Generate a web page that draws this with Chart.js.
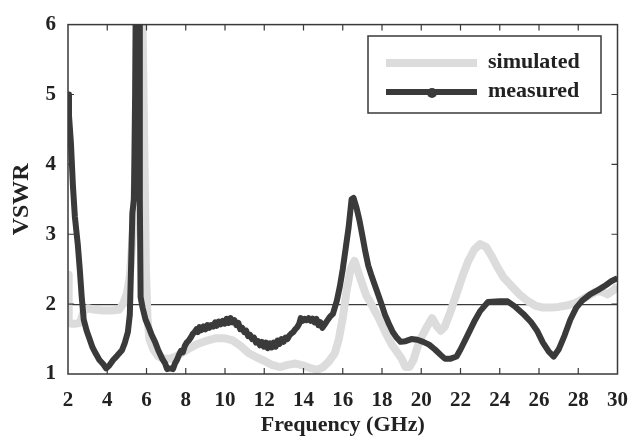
<!DOCTYPE html>
<html>
<head>
<meta charset="utf-8">
<script src="https://cdn.jsdelivr.net/npm/chart.js@4/dist/chart.umd.min.js"></script>
<style>
  html, body { margin: 0; padding: 0; background: #ffffff; }
  #wrap { width: 642px; height: 444px; }
</style>
</head>
<body>
<div id="wrap"><canvas id="c" width="642" height="444"></canvas></div>
<script>
// ---- data ----
const xTicks = [2, 4, 6, 8, 10, 12, 14, 16, 18, 20, 22, 24, 26, 28, 30];
const yTicks = [1, 2, 3, 4, 5, 6];
const seriesNames = ["simulated", "measured"];

const simFreq = [2.0, 2.02, 2.05, 2.15, 2.4, 2.6, 2.8, 3.0, 3.4, 3.8, 4.2, 4.6, 4.8, 5.0, 5.15, 5.3, 5.45, 5.6, 5.7, 5.8, 5.9, 5.97, 6.05, 6.15, 6.35, 6.6, 6.9, 7.2, 7.5, 7.8, 8.2, 8.6, 9.0, 9.5, 10.0, 10.4, 10.8, 11.2, 11.6, 12.0, 12.4, 12.8, 13.2, 13.6, 14.0, 14.4, 14.7, 15.0, 15.3, 15.6, 15.8, 16.0, 16.2, 16.4, 16.6, 16.8, 17.0, 17.2, 17.4, 17.6, 17.8, 18.0, 18.2, 18.5, 18.8, 19.0, 19.2, 19.4, 19.6, 19.8, 20.0, 20.3, 20.55, 20.8, 21.0, 21.2, 21.5, 21.8, 22.1, 22.4, 22.7, 23.0, 23.3, 23.6, 23.9, 24.2, 24.6, 25.0, 25.4, 25.8, 26.2, 26.6, 27.0, 27.4, 27.8, 28.2, 28.6, 28.9, 29.2, 29.5, 29.8, 30.0];
const simVswr = [2.42, 2.2, 1.75, 1.72, 1.72, 1.73, 1.9, 1.94, 1.92, 1.91, 1.91, 1.92, 2.0, 2.15, 2.4, 3.0, 4.0, 5.5, 7.0, 6.0, 4.0, 2.5, 1.8, 1.5, 1.35, 1.25, 1.22, 1.22, 1.25, 1.3, 1.37, 1.43, 1.47, 1.51, 1.51, 1.48, 1.4, 1.3, 1.24, 1.19, 1.13, 1.1, 1.13, 1.15, 1.12, 1.08, 1.06, 1.1, 1.18, 1.3, 1.5, 1.8, 2.2, 2.5, 2.62, 2.45, 2.28, 2.12, 2.03, 1.92, 1.82, 1.7, 1.58, 1.42, 1.3, 1.22, 1.1, 1.1, 1.2, 1.38, 1.52, 1.68, 1.8, 1.68, 1.62, 1.68, 1.9, 2.15, 2.4, 2.62, 2.78, 2.86, 2.82, 2.68, 2.52, 2.38, 2.26, 2.14, 2.05, 1.98, 1.95, 1.95, 1.96, 1.98, 2.01, 2.07, 2.13, 2.18, 2.18, 2.14, 2.2, 2.26];

const measFreq = [2.0, 2.05, 2.15, 2.25, 2.35, 2.5, 2.6, 2.7, 2.8, 2.95, 3.1, 3.25, 3.4, 3.6, 3.8, 3.95, 4.1, 4.3, 4.5, 4.75, 4.9, 5.05, 5.15, 5.22, 5.28, 5.36, 5.42, 5.48, 5.55, 5.62, 5.66, 5.7, 5.8, 5.95, 6.1, 6.25, 6.45, 6.6, 6.8, 6.95, 7.05, 7.2, 7.35,
  7.45, 7.55, 7.65, 7.75, 7.85, 7.95, 8.05, 8.15, 8.25, 8.35, 8.45, 8.55, 8.62, 8.7, 8.8, 8.9, 9.0, 9.1, 9.2, 9.3, 9.4, 9.5, 9.58, 9.68, 9.78, 9.88, 9.98, 10.08, 10.18, 10.28, 10.38, 10.48, 10.58, 10.68, 10.78, 10.88, 10.98, 11.08, 11.18, 11.28, 11.38, 11.48, 11.58, 11.68, 11.78, 11.88, 11.98, 12.08, 12.18, 12.28, 12.38, 12.48, 12.58, 12.68, 12.78, 12.88, 12.98, 13.08, 13.18, 13.28, 13.38, 13.48, 13.58, 13.68, 13.78, 13.86, 13.96, 14.06, 14.16, 14.26, 14.36, 14.46, 14.56, 14.66, 14.76, 14.86, 14.96, 15.06, 15.2, 15.35, 15.5,
  15.7, 15.85, 16.0, 16.15, 16.3, 16.45, 16.55, 16.7, 16.85, 17.0, 17.15, 17.3, 17.45, 17.6, 17.75, 17.95, 18.15, 18.35, 18.55, 18.75, 18.95, 19.2, 19.5, 19.8, 20.1, 20.4, 20.7, 21.0, 21.2, 21.5, 21.8, 22.0, 22.3, 22.7, 23.0, 23.4, 24.0, 24.4, 24.8, 25.2, 25.6, 25.9, 26.2, 26.5, 26.75, 27.0, 27.3, 27.6, 27.9, 28.2, 28.6, 29.0, 29.4, 29.7, 30.0];
const measVswr = [5.0, 4.7, 4.3, 3.7, 3.25, 2.85, 2.5, 2.1, 1.78, 1.62, 1.5, 1.38, 1.3, 1.2, 1.14, 1.08, 1.12, 1.2, 1.26, 1.34, 1.45, 1.6, 1.85, 2.6, 3.3, 3.5, 5.0, 7.5, 9.0, 6.0, 3.5, 2.1, 1.95, 1.78, 1.68, 1.57, 1.45, 1.34, 1.22, 1.15, 1.07, 1.08, 1.07,
  1.15, 1.2, 1.27, 1.33, 1.31, 1.4, 1.45, 1.48, 1.52, 1.57, 1.6, 1.64, 1.6, 1.67, 1.63, 1.68, 1.64, 1.7, 1.66, 1.7, 1.68, 1.74, 1.69, 1.75, 1.71, 1.76, 1.72, 1.79, 1.73, 1.8, 1.74, 1.77, 1.7, 1.73, 1.64, 1.66, 1.6, 1.62, 1.54, 1.56, 1.5, 1.52, 1.45, 1.47, 1.41, 1.46, 1.39, 1.45, 1.37, 1.44, 1.38, 1.45, 1.39, 1.48, 1.43, 1.5, 1.46, 1.52, 1.5, 1.55, 1.58, 1.6, 1.64, 1.67, 1.72, 1.8, 1.76, 1.79, 1.77, 1.8, 1.76, 1.79, 1.74, 1.79, 1.7, 1.74, 1.66, 1.7, 1.76, 1.82, 1.86,
  2.05, 2.25, 2.5, 2.8, 3.1, 3.5, 3.52, 3.38, 3.2, 2.98, 2.75, 2.55, 2.42, 2.3, 2.18, 2.02, 1.85, 1.72, 1.6, 1.52, 1.46, 1.47, 1.5, 1.49, 1.46, 1.42, 1.35, 1.27, 1.22, 1.22, 1.25, 1.35, 1.52, 1.75, 1.9, 2.03, 2.04, 2.04, 1.96, 1.86, 1.74, 1.62, 1.45, 1.32, 1.25, 1.35, 1.55, 1.78, 1.95, 2.05, 2.14, 2.2, 2.27, 2.33, 2.37];

const refLine = 2; // horizontal reference line value

// ---- styling ----
const FONT = "'Liberation Serif', 'Times New Roman', serif";
const INK = "#3a3a3a";
const SIM_COLOR = "#dcdcdc";

function pts(xs, ys) { return xs.map((x, i) => ({ x: x, y: ys[i] })); }

const framePlugin = {
  id: 'frame',
  afterDraw(chart) {
    const { ctx, chartArea: a, scales } = chart;
    ctx.save();
    ctx.strokeStyle = INK;
    ctx.lineWidth = 1.5;
    ctx.strokeRect(a.left, a.top, a.right - a.left, a.bottom - a.top);
    // inward tick marks
    ctx.lineWidth = 1.2;
    const tl = 6;
    ctx.beginPath();
    scales.x.ticks.forEach(t => {
      if (t.value <= xTicks[0] || t.value >= xTicks[xTicks.length - 1]) return;
      const px = scales.x.getPixelForValue(t.value);
      ctx.moveTo(px, a.bottom); ctx.lineTo(px, a.bottom - tl);
      ctx.moveTo(px, a.top); ctx.lineTo(px, a.top + tl);
    });
    scales.y.ticks.forEach(t => {
      if (t.value <= yTicks[0] || t.value >= yTicks[yTicks.length - 1]) return;
      const py = scales.y.getPixelForValue(t.value);
      ctx.moveTo(a.left, py); ctx.lineTo(a.left + tl, py);
      ctx.moveTo(a.right, py); ctx.lineTo(a.right - tl, py);
    });
    ctx.stroke();

    // legend box
    const bx = 368, by = 36, bw = 233, bh = 77;
    ctx.fillStyle = '#ffffff';
    ctx.fillRect(bx, by, bw, bh);
    ctx.lineWidth = 1.5;
    ctx.strokeStyle = INK;
    ctx.strokeRect(bx, by, bw, bh);
    const rows = [
      { name: seriesNames[0], color: SIM_COLOR, w: 8, y: 63, marker: false },
      { name: seriesNames[1], color: INK, w: 6, y: 92, marker: true }
    ];
    rows.forEach(r => {
      ctx.beginPath();
      ctx.strokeStyle = r.color;
      ctx.lineWidth = r.w;
      ctx.lineCap = 'butt';
      ctx.moveTo(386, r.y); ctx.lineTo(477, r.y);
      ctx.stroke();
      if (r.marker) {
        ctx.beginPath();
        ctx.fillStyle = r.color;
        ctx.arc(432, r.y + 1, 5, 0, Math.PI * 2);
        ctx.fill();
      }
      ctx.fillStyle = '#222222';
      ctx.font = "bold 22px " + FONT;
      ctx.textAlign = 'left';
      ctx.textBaseline = 'middle';
      ctx.fillText(r.name, 488, r.y - 1);
    });
    ctx.restore();
  }
};

new Chart(document.getElementById('c'), {
  type: 'scatter',
  data: {
    datasets: [
      {
        label: seriesNames[1],
        data: pts(measFreq, measVswr),
        showLine: true,
        borderColor: INK,
        borderWidth: 6,
        pointRadius: 0,
        borderJoinStyle: 'round',
        borderCapStyle: 'butt',
        tension: 0
      },
      {
        label: seriesNames[0],
        data: pts(simFreq, simVswr),
        showLine: true,
        borderColor: SIM_COLOR,
        borderWidth: 8,
        pointRadius: 0,
        borderJoinStyle: 'round',
        borderCapStyle: 'butt',
        tension: 0
      }
    ]
  },
  options: {
    responsive: false,
    animation: false,
    layout: { padding: { left: 0, right: 13, top: 18, bottom: 0 } },
    plugins: { legend: { display: false }, tooltip: { enabled: false } },
    scales: {
      x: {
        type: 'linear',
        min: xTicks[0],
        max: xTicks[xTicks.length - 1],
        afterBuildTicks: s => { s.ticks = xTicks.map(v => ({ value: v })); },
        afterFit: s => { s.height = 70; },
        grid: { display: false, drawTicks: false },
        border: { display: false },
        ticks: {
          color: '#222222',
          padding: 14,
          maxRotation: 0,
          autoSkip: false,
          font: { family: FONT, size: 21, weight: 'bold' }
        },
        title: {
          display: true,
          text: 'Frequency (GHz)',
          color: '#222222',
          padding: { top: 0, bottom: 5 },
          font: { family: FONT, size: 22, weight: 'bold' }
        }
      },
      y: {
        type: 'linear',
        min: yTicks[0],
        max: yTicks[yTicks.length - 1],
        afterBuildTicks: s => { s.ticks = yTicks.map(v => ({ value: v })); },
        afterFit: s => { s.width = 68; },
        grid: {
          drawTicks: false,
          lineWidth: 1.2,
          color: c => (c.tick && c.tick.value === refLine) ? INK : 'rgba(0,0,0,0)'
        },
        border: { display: false },
        ticks: {
          color: '#222222',
          padding: 12,
          autoSkip: false,
          font: { family: FONT, size: 21, weight: 'bold' }
        },
        title: {
          display: true,
          text: 'VSWR',
          color: '#222222',
          padding: { top: 7, bottom: 0 },
          font: { family: FONT, size: 24, weight: 'bold' }
        }
      }
    }
  },
  plugins: [framePlugin]
});
</script>
</body>
</html>
